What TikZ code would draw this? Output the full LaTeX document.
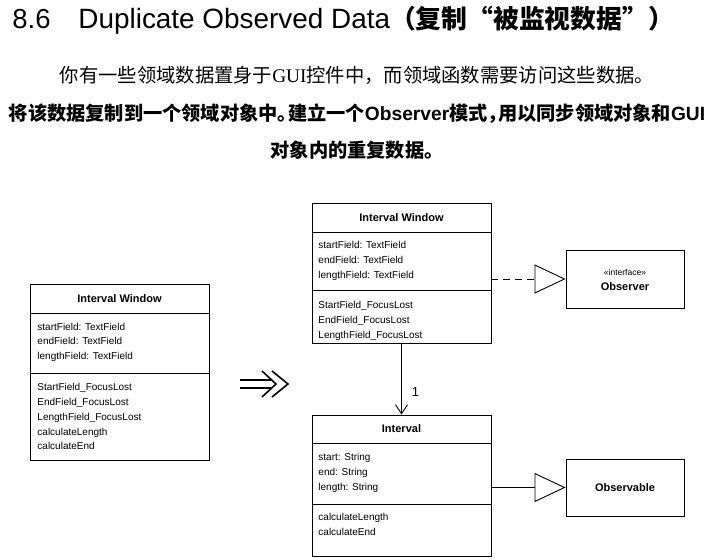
\documentclass[tikz,border=0pt]{standalone}
\usepackage{fontspec}
\setmainfont{Liberation Sans}
\newfontfamily\cjk{Noto Sans CJK SC}
\newfontfamily\serifl{Liberation Serif}
\newcommand{\halfp}{\hspace{-0.45em}}
\usetikzlibrary{arrows.meta}
\begin{document}
\begin{tikzpicture}[x=1pt, y=-1pt, line width=0.9pt,
  classbox/.style={draw, line width=0.9pt, inner sep=0, minimum width=179pt},
  mem/.style={anchor=west, inner sep=0, font=\fontsize{10}{12}\selectfont, text height=7.2pt, text depth=0pt},
  hdr/.style={inner sep=0, font=\fontsize{11}{12}\selectfont\bfseries, text height=7.9pt, text depth=0pt},
  tri/.style={-{Triangle[open, length=31pt, width=29pt, line width=0.9pt]}},
  sep/.style={line width=0.9pt}]
\useasboundingbox[fill=white] (0,0) rectangle (713,560);

% title and texts
\node[anchor=base west, inner sep=0, font=\fontsize{27.5}{30}\selectfont] (tnum) at (12,28) {8.6};
\node[anchor=base west, inner sep=0, font=\fontsize{27.9}{30}\selectfont] (ttxt) at (78,28)
  {Duplicate Observed Data{\fontsize{25.8}{30}\selectfont\cjk\bfseries （复制“被监视数据”）}};
\node[anchor=base, inner sep=0, font=\fontsize{19.3}{22}\selectfont] (l2) at (357,82)
  {{\cjk 你有一些领域数据置身于}{\serifl GUI}{\cjk 控件中，而领域函数需要访问这些数据。}};
\node[anchor=base, inner sep=0, font=\fontsize{19.2}{22}\selectfont\bfseries] (l3) at (357,120)
  {{\cjk 将该数据复制到一个领域对象中。\halfp 建立一个}Observer{\cjk 模式，\halfp 用以同步领域对象和}GUI};
\node[anchor=base, inner sep=0, font=\fontsize{19.2}{22}\selectfont] (l4) at (357,157)
  {{\cjk\bfseries 对象内的重复数据。}};

% class boxes
\node[classbox, minimum height=176pt] (lw) at (119.5,372) {};
\node[classbox, minimum height=140pt] (trw) at (401.5,273) {};
\node[classbox, minimum height=141pt] (int) at (401.5,485.5) {};
\node[classbox, minimum width=118pt, minimum height=58pt] (obs) at (625,279) {};
\node[classbox, minimum width=118pt, minimum height=57pt] (obl) at (625,487.5) {};

% separators
\draw[sep] (lw.west |- 0,313) -- (lw.east |- 0,313);
\draw[sep] (lw.west |- 0,373) -- (lw.east |- 0,373);
\draw[sep] (trw.west |- 0,232) -- (trw.east |- 0,232);
\draw[sep] (trw.west |- 0,290) -- (trw.east |- 0,290);
\draw[sep] (int.west |- 0,443) -- (int.east |- 0,443);
\draw[sep] (int.west |- 0,504) -- (int.east |- 0,504);

% left Interval Window
\node[hdr] (lwh) at (119.5,298.5) {Interval Window};
\node[mem] (lwa1) at (37,326.5) {startField: TextField};
\node[mem] (lwa2) at (37,341.3) {endField: TextField};
\node[mem] (lwa3) at (37,356.1) {lengthField: TextField};
\node[mem] (lwm1) at (37,387) {StartField\_FocusLost};
\node[mem] (lwm2) at (37,401.8) {EndField\_FocusLost};
\node[mem] (lwm3) at (37,416.6) {LengthField\_FocusLost};
\node[mem] (lwm4) at (37,431.4) {calculateLength};
\node[mem] (lwm5) at (37,446.2) {calculateEnd};

% right Interval Window
\node[hdr] (trwh) at (401.5,217.5) {Interval Window};
\node[mem] (trwa1) at (318,245) {startField: TextField};
\node[mem] (trwa2) at (318,259.8) {endField: TextField};
\node[mem] (trwa3) at (318,274.6) {lengthField: TextField};
\node[mem] (trwm1) at (318,305) {StartField\_FocusLost};
\node[mem] (trwm2) at (318,319.8) {EndField\_FocusLost};
\node[mem] (trwm3) at (318,334.6) {LengthField\_FocusLost};

% Interval
\node[hdr] (inth) at (401.5,429) {Interval};
\node[mem] (inta1) at (318,457) {start: String};
\node[mem] (inta2) at (318,471.8) {end: String};
\node[mem] (inta3) at (318,486.6) {length: String};
\node[mem] (intm1) at (318,517) {calculateLength};
\node[mem] (intm2) at (318,531.8) {calculateEnd};

% Observer / Observable
\node[inner sep=0, font=\fontsize{8.5}{10}\selectfont, text height=6pt, text depth=0pt] (obsst) at (625,272) {«interface»};
\node[hdr] (obsn) at (625,287) {Observer};
\node[hdr] (obln) at (625,488) {Observable};

% connectors
\draw[tri, dash pattern=on 7pt off 5pt] (trw.east |- obs.west) -- (obs.west);
\draw[tri] (int.east |- obl.west) -- (obl.west);
\draw[-{Straight Barb[length=9pt, width=12pt, line width=0.9pt]}] (trw.south) --
  node[pos=0.69, anchor=west, xshift=10pt, inner sep=0, font=\fontsize{13}{14}\selectfont] (one) {1} (int.north);

% refactoring arrow
\draw[line width=1.6pt] (240,380) -- (271,380) (240,388) -- (271,388);
\draw[line width=1.6pt, line join=miter] (262,371) -- (276,384) -- (262,397);
\draw[line width=1.6pt, line join=miter] (272,371) -- (288,384) -- (272,397);
\end{tikzpicture}
\end{document}
